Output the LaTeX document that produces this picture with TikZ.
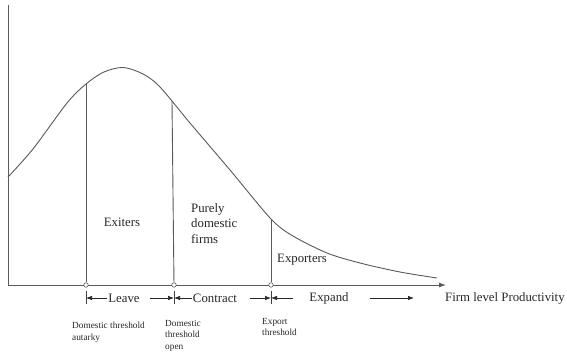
\documentclass[tikz,border=0pt]{standalone}
\usepackage{fontspec}
\setmainfont{Liberation Serif}
\usetikzlibrary{arrows.meta}
\begin{document}
\begin{tikzpicture}[x=1pt,y=-1pt,
  ln/.style={draw=black!65, line width=0.9pt},
  dot/.style={circle, draw=black!65, fill=white, inner sep=0pt, minimum size=4.5pt, line width=0.6pt},
  lbl/.style={font=\fontsize{12.8}{15.5}\selectfont, text=black!85, inner sep=0pt},
  small/.style={font=\fontsize{9.3}{11.5}\selectfont, text=black!85, align=left, anchor=north west, inner sep=0pt},
  arr/.style={-{Latex[length=6pt,width=4.5pt]}, draw=black!85, line width=0.7pt},
  tick/.style={draw=black!75, line width=0.8pt}
]
\useasboundingbox (0,0) rectangle (567,353);
% axes
\coordinate (O) at (8,285);
\coordinate (ytop) at (8,5);
\coordinate (xend) at (446,285);
\draw[ln] (ytop) -- (O);
\draw[ln, -{Latex[length=7pt,width=5pt]}] (O) -- (xend);
% density curve
\draw[ln] plot[smooth, tension=0.5] coordinates {(8,177) (33,149) (67,103) (86,84) (104,72) (123,67.5) (143,74) (160,87) (190,123) (230,170) (271,219) (293,236) (327,253) (360,263) (400,272) (437,278)};
\coordinate (c1) at (86,84);
\coordinate (c2) at (172,101);
\coordinate (c3) at (271,219);
% threshold dots and verticals
\node[dot] (d1) at (86,285) {};
\node[dot] (d2) at (174,285) {};
\node[dot] (d3) at (271,285) {};
\draw[ln] (d1) -- (c1);
\draw[ln] (d2) -- (c2);
\draw[ln] (d3) -- (c3);
% tick bars below axis
\coordinate (k1a) at (86,291); \coordinate (k1b) at (86,304); \coordinate (k1) at (86,298);
\coordinate (k2a) at (174,291); \coordinate (k2b) at (174,304); \coordinate (k2) at (174,298);
\coordinate (k3a) at (271,291); \coordinate (k3b) at (271,304); \coordinate (k3) at (271,298);
\draw[tick] (k1a) -- (k1b);
\draw[tick] (k2a) -- (k2b);
\draw[tick] (k3a) -- (k3b);
% range labels with arrows
\node[lbl] (leave) at (124,298) {Leave};
\node[lbl] (contract) at (215,298) {Contract};
\node[lbl] (expand) at (329,298) {Expand};
\coordinate (a1) at (107,298); \coordinate (a2) at (150,298);
\coordinate (a3) at (192,298); \coordinate (a4) at (250,298);
\coordinate (a5) at (293,298); \coordinate (a6) at (370,298); \coordinate (a7) at (414,298);
\draw[arr] (a1) -- (k1);
\draw[arr] (a2) -- (k2);
\draw[arr] (a3) -- (k2);
\draw[arr] (a4) -- (k3);
\draw[arr] (a5) -- (k3);
\draw[arr] (a6) -- (a7);
% axis label
\node[lbl, anchor=west] (xlab) at (445,298) {Firm level Productivity};
% region labels
\node[lbl] (exiters) at (122,222) {Exiters};
\node[lbl, align=left, anchor=north west] (pure) at (191,203) {Purely\\domestic\\firms};
\node[lbl, anchor=west] (exporters) at (277,260) {Exporters};
% threshold labels
\node[small] (t1) at (72,322) {Domestic threshold\\autarky};
\node[small] (t2) at (165,320) {Domestic\\threshold\\open};
\node[small] (t3) at (262,318) {Export\\threshold};
\end{tikzpicture}
\end{document}
